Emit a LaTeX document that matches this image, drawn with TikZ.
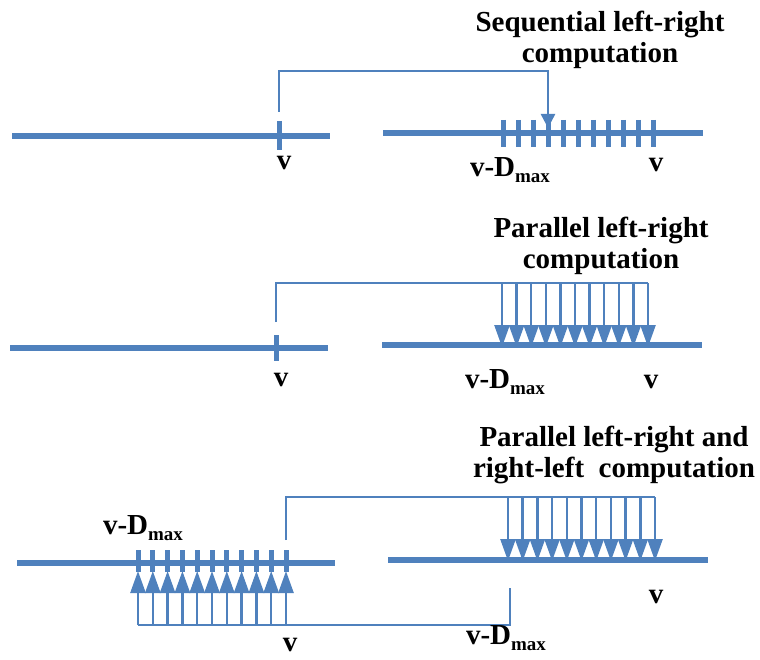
\documentclass[tikz,border=0pt]{standalone}
\usepackage{fontspec}
\setmainfont{Liberation Serif}
\usetikzlibrary{arrows.meta}
\definecolor{lineblue}{HTML}{4F81BD}
\newcommand{\vdmax}{v-D\raisebox{-0.22em}{\fontsize{19}{19}\selectfont max}}
\begin{document}
\begin{tikzpicture}[x=1pt,y=-1pt,
  axis/.style={draw=lineblue,line width=6pt},
  tickmark/.style={draw=lineblue,line width=5pt},
  link/.style={draw=lineblue,line width=2.5pt},
  arr/.style={link,-{Triangle[width=15pt,length=22pt]}},
  arrs/.style={link,-{Triangle[width=14pt,length=14pt]}},
  lbl/.style={font=\fontsize{29}{31}\selectfont\bfseries, inner sep=0pt},
  ttl/.style={font=\fontsize{29}{31}\selectfont\bfseries, align=center, inner sep=0pt}]
\useasboundingbox (0,0) rectangle (760,660);
% ---------- panel 1 ----------
\coordinate (a1) at (12,136); \coordinate (b1) at (330,136);
\coordinate (c1) at (383,133); \coordinate (d1) at (703,133);
\draw[axis] (a1) -- (b1);
\draw[axis] (c1) -- (d1);
\draw[tickmark] (279,121) -- (279,150);
\foreach \i in {0,...,10} \draw[tickmark] ({503+15*\i},120) -- ({503+15*\i},147);
\coordinate (s1) at (279,112); \coordinate (k1) at (548,71); \coordinate (e1) at (548,128);
\draw[arrs] (s1) |- (k1) -- (e1);
\node[ttl] (t1) at (600,40) {Sequential left-right\\computation};
\node[lbl] (v1) at (284,163) {v};
\node[lbl] (vd1) at (510,170) {\vdmax};
\node[lbl] (vr1) at (656,165) {v};
% ---------- panel 2 ----------
\coordinate (a2) at (10,348); \coordinate (b2) at (328,348);
\coordinate (c2) at (382,345); \coordinate (d2) at (702,345);
\draw[axis] (a2) -- (b2);
\draw[axis] (c2) -- (d2);
\draw[tickmark] (276,335) -- (276,361);
\coordinate (s2) at (276,322); \coordinate (k2) at (648,283);
\draw[link] (s2) |- (k2);
\foreach \i in {0,...,10} \draw[arr] ({502+14.6*\i},283) -- ({502+14.6*\i},347);
\node[ttl] (t2) at (601,246) {Parallel left-right\\computation};
\node[lbl] (v2) at (281,380) {v};
\node[lbl] (vd2) at (505,382) {\vdmax};
\node[lbl] (vr2) at (651,382) {v};
% ---------- panel 3 ----------
\coordinate (a3) at (17,563); \coordinate (b3) at (335,563);
\coordinate (c3) at (388,560); \coordinate (d3) at (708,560);
\draw[axis] (a3) -- (b3);
\draw[axis] (c3) -- (d3);
\foreach \i in {0,...,10} \draw[tickmark] ({138+14.8*\i},550) -- ({138+14.8*\i},572);
\foreach \i in {0,...,10} \draw[arr] ({138+14.8*\i},625) -- ({138+14.8*\i},571);
\coordinate (s3) at (286,540); \coordinate (k3) at (655,497);
\draw[link] (s3) |- (k3);
\foreach \i in {0,...,10} \draw[arr] ({508+14.7*\i},497) -- ({508+14.7*\i},561);
\coordinate (p3) at (138,625); \coordinate (q3) at (510,588);
\draw[link] (p3) -| (q3);
\node[ttl] (t3) at (614,455) {Parallel left-right and\\right-left\ \ computation};
\node[lbl] (vd3) at (143,528) {\vdmax};
\node[lbl] (v3) at (290,645) {v};
\node[lbl] (vr3) at (656,597) {v};
\node[lbl] (vd4) at (506,638) {\vdmax};
\end{tikzpicture}
\end{document}
